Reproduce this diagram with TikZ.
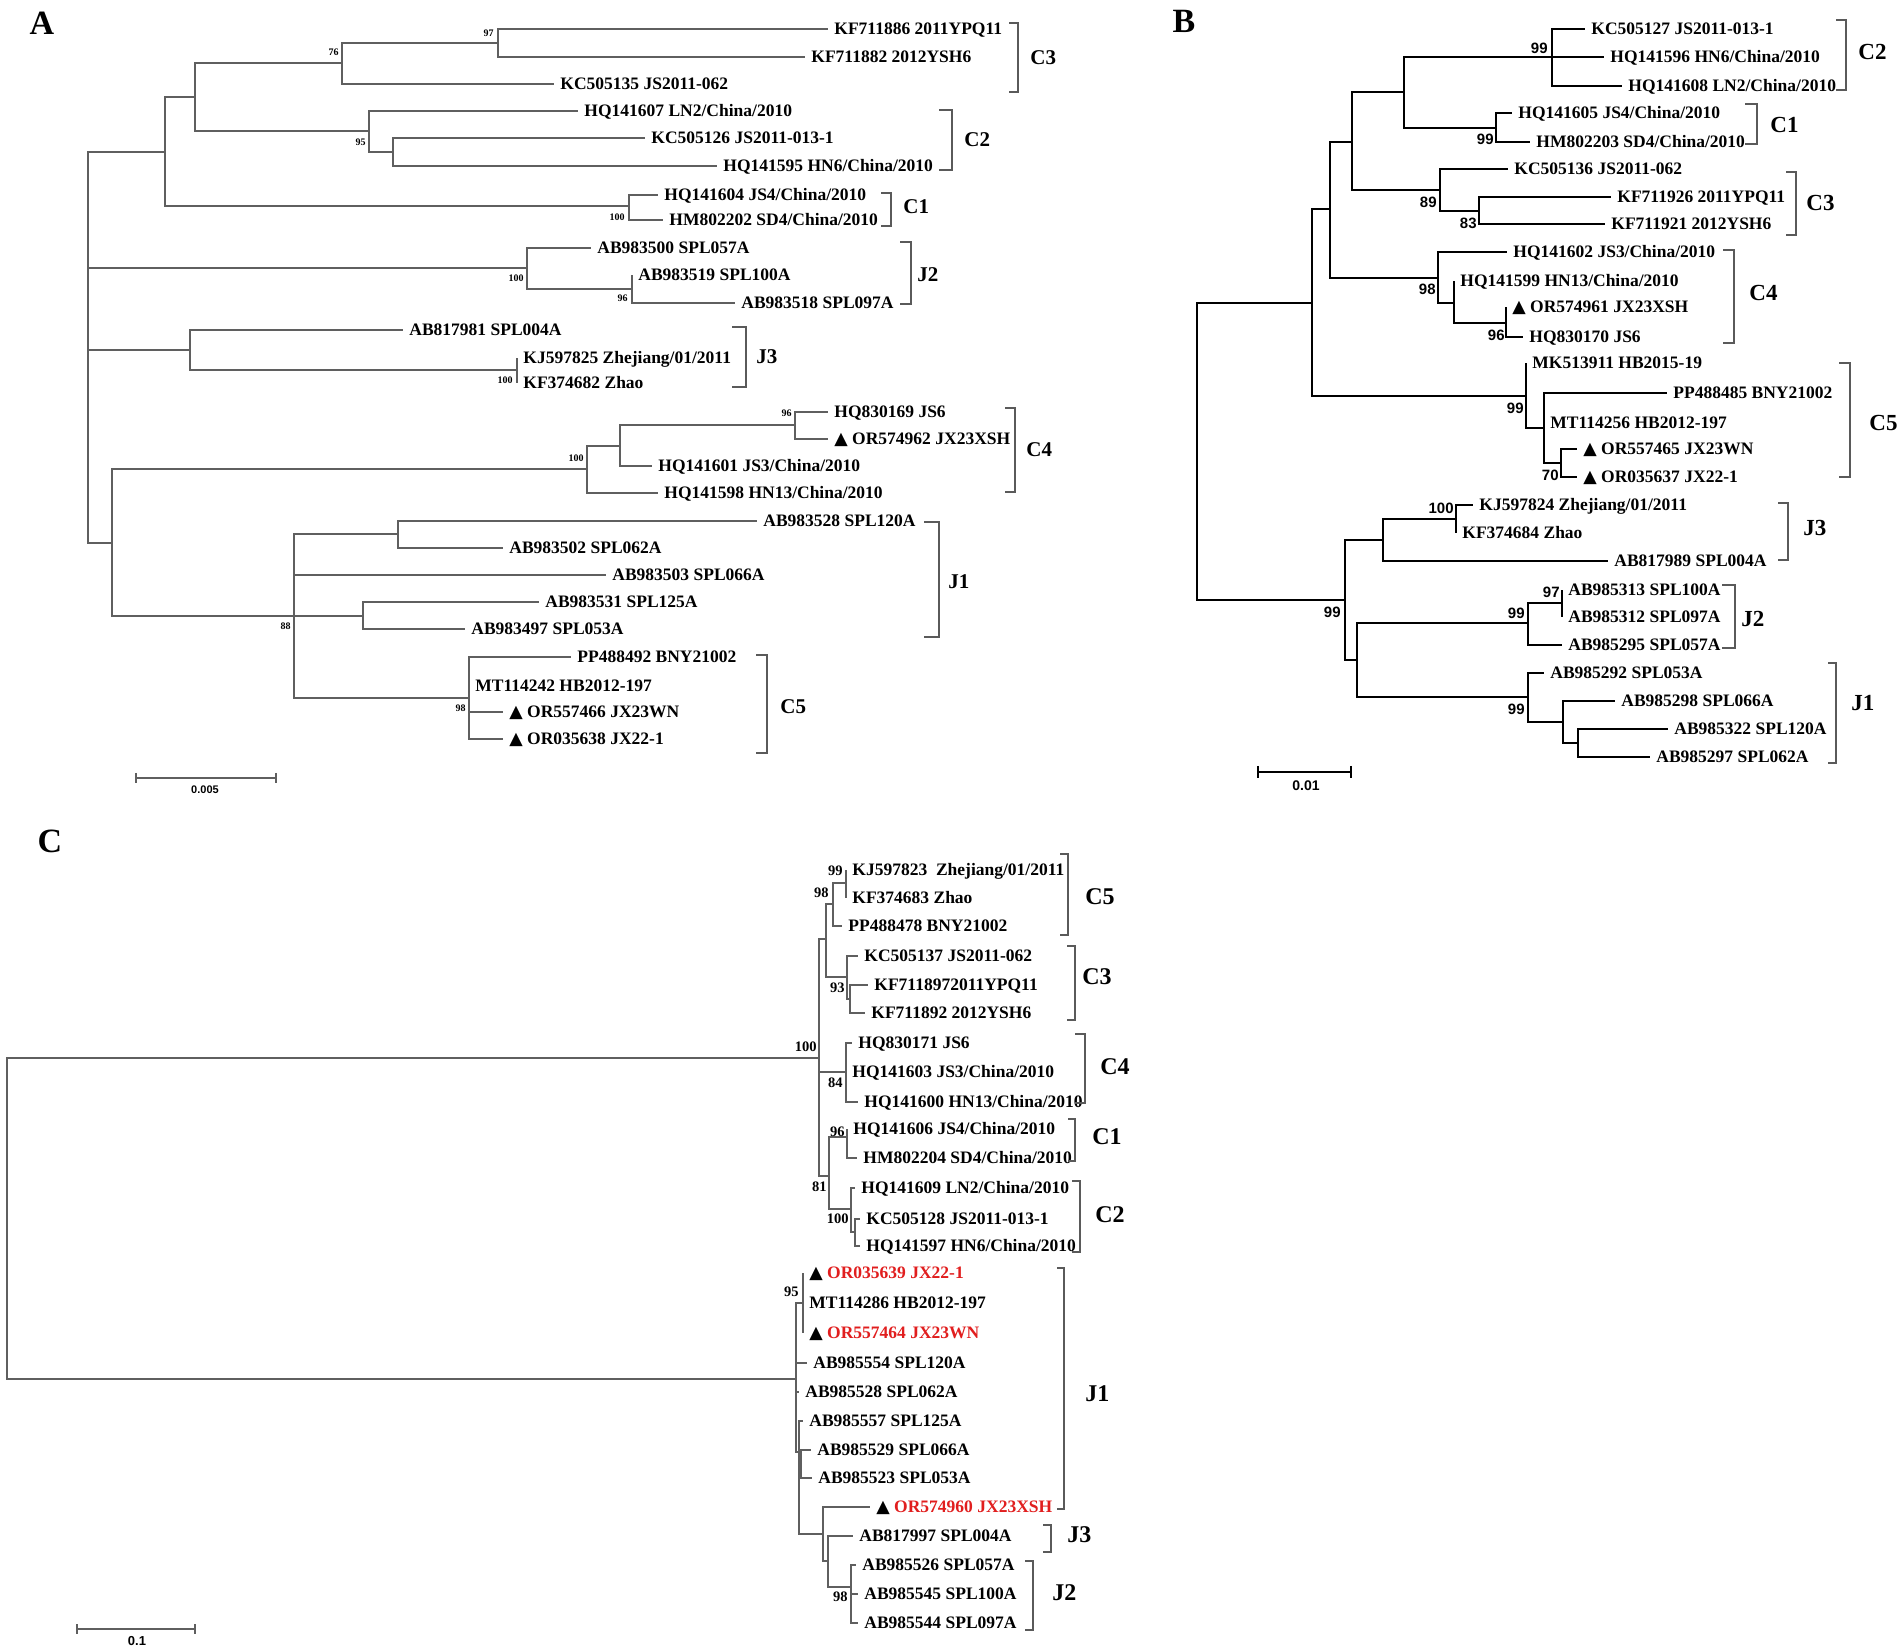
\documentclass[tikz,border=0pt]{standalone}
\usepackage{fontspec}
\setmainfont{Liberation Serif}
\setsansfont{Liberation Sans}
\newfontfamily\symf{DejaVu Sans}
\definecolor{lnA}{RGB}{95,95,95}
\definecolor{bkC}{RGB}{90,90,90}
\definecolor{redC}{RGB}{225,30,30}
\newcommand\tri{{\symf ▲}\ }
\newcommand\lf[5][]{\node[leaf,#1] (#2) at (#3,#4) {#5};}
\newcommand\bkt[4]{\draw[bktline] (#1,#3) -- (#2,#3) -- (#2,#4) -- (#1,#4);}
\begin{document}
\begin{tikzpicture}[x=0.5pt,y=-0.5pt,
  brA/.style={draw=lnA,line width=0.7pt},
  brB/.style={draw=black,line width=1pt},
  brC/.style={draw=lnA,line width=0.65pt},
  bktline/.style={draw=bkC,line width=0.6pt},
  leaf/.style={anchor=west,inner xsep=3pt,inner ysep=0pt,text height=5.8pt,text depth=0pt,
    font=\fontsize{8.75pt}{10pt}\selectfont\bfseries},
  bsA/.style={anchor=east,inner sep=0pt,font=\fontsize{5pt}{6pt}\selectfont\bfseries},
  bsB/.style={anchor=east,inner sep=0pt,font=\fontsize{7.5pt}{9pt}\selectfont\sffamily\bfseries},
  bsC/.style={anchor=east,inner sep=0pt,font=\fontsize{7.25pt}{9pt}\selectfont\bfseries},
  clA/.style={anchor=west,inner sep=0pt,font=\fontsize{10.5pt}{12pt}\selectfont\bfseries},
  clB/.style={anchor=west,inner sep=0pt,font=\fontsize{11.5pt}{13pt}\selectfont\bfseries},
  clC/.style={anchor=west,inner sep=0pt,font=\fontsize{12pt}{14pt}\selectfont\bfseries},
  panel/.style={inner sep=0pt,font=\fontsize{17pt}{20pt}\selectfont\bfseries},
  scl/.style={inner sep=0pt,font=\sffamily\bfseries}]
\useasboundingbox[fill=white] (0,0) rectangle (1902,1652);

% ================= Panel A =================
\node[panel] (pA) at (42,23) {A};
\coordinate (rA) at (88,350);
\coordinate (nA1) at (165,152);
\coordinate (nA2) at (195,97);
\coordinate (nC3A) at (342,63);
\coordinate (n97A) at (498,43);
\coordinate (nC2A) at (369,131);
\coordinate (nC2bA) at (393,152);
\coordinate (nC1A) at (629,206);
\coordinate (nJ2A) at (527,268);
\coordinate (nJ2bA) at (632,289);
\coordinate (nJ3A) at (190,350);
\coordinate (nJ3bA) at (517,370);
\coordinate (nXA) at (112,543);
\coordinate (nC4A) at (587,469);
\coordinate (nC4bA) at (620,446);
\coordinate (n96A) at (795,425);
\coordinate (nJ1C5A) at (294,616);
\coordinate (nJ1aA) at (398,534);
\coordinate (nJ1bA) at (363,616);
\coordinate (nC5A) at (469,698);

\lf{a1}{828}{29}{KF711886 2011YPQ11}
\lf{a2}{805}{57}{KF711882 2012YSH6}
\lf{a3}{554}{84}{KC505135 JS2011-062}
\lf{a4}{578}{111}{HQ141607 LN2/China/2010}
\lf{a5}{645}{138}{KC505126 JS2011-013-1}
\lf{a6}{717}{166}{HQ141595 HN6/China/2010}
\lf{a7}{658}{195}{HQ141604 JS4/China/2010}
\lf{a8}{663}{220}{HM802202 SD4/China/2010}
\lf{a9}{591}{248}{AB983500 SPL057A}
\lf{a10}{632}{275}{AB983519 SPL100A}
\lf{a11}{735}{303}{AB983518 SPL097A}
\lf{a12}{403}{330}{AB817981 SPL004A}
\lf{a13}{517}{358}{KJ597825 Zhejiang/01/2011}
\lf{a14}{517}{383}{KF374682 Zhao}
\lf{a15}{828}{412}{HQ830169 JS6}
\lf{a16}{828}{439}{\tri OR574962 JX23XSH}
\lf{a17}{652}{466}{HQ141601 JS3/China/2010}
\lf{a18}{658}{493}{HQ141598 HN13/China/2010}
\lf{a19}{757}{521}{AB983528 SPL120A}
\lf{a20}{503}{548}{AB983502 SPL062A}
\lf{a21}{606}{575}{AB983503 SPL066A}
\lf{a22}{539}{602}{AB983531 SPL125A}
\lf{a23}{465}{629}{AB983497 SPL053A}
\lf{a24}{571}{657}{PP488492 BNY21002}
\lf{a25}{469}{686}{MT114242 HB2012-197}
\lf{a26}{503}{712}{\tri OR557466 JX23WN}
\lf{a27}{503}{739}{\tri OR035638 JX22-1}

\foreach \p/\c in {rA/nA1,rA/nJ2A,rA/nJ3A,rA/nXA,nA1/nA2,nA1/nC1A,nA2/nC3A,nA2/nC2A,
  nC3A/n97A,nC3A/a3.west,n97A/a1.west,n97A/a2.west,nC2A/a4.west,nC2A/nC2bA,
  nC2bA/a5.west,nC2bA/a6.west,nC1A/a7.west,nC1A/a8.west,nJ2A/a9.west,nJ2A/nJ2bA,
  nJ2bA/a10.west,nJ2bA/a11.west,nJ3A/a12.west,nJ3A/nJ3bA,nJ3bA/a13.west,nJ3bA/a14.west,
  nXA/nC4A,nXA/nJ1C5A,nC4A/nC4bA,nC4A/a18.west,nC4bA/n96A,nC4bA/a17.west,
  n96A/a15.west,n96A/a16.west,nJ1C5A/nJ1aA,nJ1C5A/a21.west,nJ1C5A/nJ1bA,nJ1C5A/nC5A,
  nJ1aA/a19.west,nJ1aA/a20.west,nJ1bA/a22.west,nJ1bA/a23.west,
  nC5A/a24.west,nC5A/a25.west,nC5A/a26.west,nC5A/a27.west}
  \draw[brA] (\p) |- (\c);

\foreach \x/\y/\t [count=\i] in {494/33/97,339/52/76,366/142/95,625/217/100,524/278/100,
  628/298/96,513/380/100,792/413/96,584/458/100,291/626/88,466/708/98}
  \node[bsA] (bA\i) at (\x,\y) {\t};

\bkt{1009}{1018}{23}{92}   \node[clA] (kC3A) at (1030,58) {C3};
\bkt{939}{952}{110}{170}   \node[clA] (kC2A) at (964,140) {C2};
\bkt{881}{891}{193}{226}   \node[clA] (kC1A) at (903,207) {C1};
\bkt{900}{911}{242}{304}   \node[clA] (kJ2A) at (917,275) {J2};
\bkt{732}{746}{327}{387}   \node[clA] (kJ3A) at (756,357) {J3};
\bkt{1005}{1015}{408}{492} \node[clA] (kC4A) at (1026,450) {C4};
\bkt{924}{939}{522}{637}   \node[clA] (kJ1A) at (948,582) {J1};
\bkt{756}{767}{655}{753}   \node[clA] (kC5A) at (780,707) {C5};

\draw[lnA,line width=0.7pt] (136,778) -- (276,778) (136,773) -- (136,783) (276,773) -- (276,783);
\node[scl,font=\fontsize{5.5pt}{7pt}\selectfont\sffamily\bfseries] (sA) at (205,790) {0.005};

% ================= Panel B =================
\node[panel] (pB) at (1184,21) {B};
\coordinate (rB) at (1197,450);
\coordinate (nB1) at (1312,303);
\coordinate (nB2) at (1330,209);
\coordinate (nB3) at (1352,142);
\coordinate (nB4) at (1404,92);
\coordinate (nC2B) at (1552,57);
\coordinate (nC1B) at (1496,128);
\coordinate (nC3B) at (1440,190);
\coordinate (nC3bB) at (1479,211);
\coordinate (nC4B) at (1438,278);
\coordinate (nC4bB) at (1454,303);
\coordinate (nC4cB) at (1506,323);
\coordinate (nC5B) at (1526,396);
\coordinate (nC5bB) at (1544,428);
\coordinate (nC5cB) at (1561,463);
\coordinate (nJB) at (1345,600);
\coordinate (nJ3B) at (1383,540);
\coordinate (nJ3bB) at (1456,519);
\coordinate (nJ12B) at (1357,660);
\coordinate (nJ2B) at (1528,623);
\coordinate (nJ2bB) at (1562,603);
\coordinate (nJ1B) at (1528,697);
\coordinate (nJ1bB) at (1563,722);
\coordinate (nJ1cB) at (1578,743);

\lf{b1}{1585}{29}{KC505127 JS2011-013-1}
\lf{b2}{1604}{57}{HQ141596 HN6/China/2010}
\lf{b3}{1622}{86}{HQ141608 LN2/China/2010}
\lf{b4}{1512}{113}{HQ141605 JS4/China/2010}
\lf{b5}{1530}{142}{HM802203 SD4/China/2010}
\lf{b6}{1508}{169}{KC505136 JS2011-062}
\lf{b7}{1611}{197}{KF711926 2011YPQ11}
\lf{b8}{1605}{224}{KF711921 2012YSH6}
\lf{b9}{1507}{252}{HQ141602 JS3/China/2010}
\lf{b10}{1454}{281}{HQ141599 HN13/China/2010}
\lf{b11}{1506}{307}{\tri OR574961 JX23XSH}
\lf{b12}{1523}{337}{HQ830170 JS6}
\lf{b13}{1526}{363}{MK513911 HB2015-19}
\lf{b14}{1667}{393}{PP488485 BNY21002}
\lf{b15}{1544}{423}{MT114256 HB2012-197}
\lf{b16}{1577}{449}{\tri OR557465 JX23WN}
\lf{b17}{1577}{477}{\tri OR035637 JX22-1}
\lf{b18}{1473}{505}{KJ597824 Zhejiang/01/2011}
\lf{b19}{1456}{533}{KF374684 Zhao}
\lf{b20}{1608}{561}{AB817989 SPL004A}
\lf{b21}{1562}{590}{AB985313 SPL100A}
\lf{b22}{1562}{617}{AB985312 SPL097A}
\lf{b23}{1562}{645}{AB985295 SPL057A}
\lf{b24}{1544}{673}{AB985292 SPL053A}
\lf{b25}{1615}{701}{AB985298 SPL066A}
\lf{b26}{1668}{729}{AB985322 SPL120A}
\lf{b27}{1650}{757}{AB985297 SPL062A}

\foreach \p/\c in {rB/nB1,rB/nJB,nB1/nB2,nB1/nC5B,nB2/nB3,nB2/nC4B,nB3/nB4,nB3/nC3B,
  nB4/nC2B,nB4/nC1B,nC2B/b1.west,nC2B/b2.west,nC2B/b3.west,nC1B/b4.west,nC1B/b5.west,
  nC3B/b6.west,nC3B/nC3bB,nC3bB/b7.west,nC3bB/b8.west,nC4B/b9.west,nC4B/nC4bB,
  nC4bB/b10.west,nC4bB/nC4cB,nC4cB/b11.west,nC4cB/b12.west,nC5B/b13.west,nC5B/nC5bB,
  nC5bB/b14.west,nC5bB/b15.west,nC5bB/nC5cB,nC5cB/b16.west,nC5cB/b17.west,
  nJB/nJ3B,nJB/nJ12B,nJ3B/nJ3bB,nJ3B/b20.west,nJ3bB/b18.west,nJ3bB/b19.west,
  nJ12B/nJ2B,nJ12B/nJ1B,nJ2B/nJ2bB,nJ2B/b23.west,nJ2bB/b21.west,nJ2bB/b22.west,
  nJ1B/b24.west,nJ1B/nJ1bB,nJ1bB/b25.west,nJ1bB/nJ1cB,nJ1cB/b26.west,nJ1cB/b27.west}
  \draw[brB] (\p) |- (\c);

\foreach \x/\y/\t [count=\i] in {1548/48/99,1494/139/99,1437/202/89,1477/223/83,1436/289/98,
  1505/335/96,1524/408/99,1559/475/70,1454/508/100,1341/612/99,1525/613/99,1560/592/97,1525/709/99}
  \node[bsB] (bB\i) at (\x,\y) {\t};

\bkt{1836}{1846}{20}{90}   \node[clB] (kC2B) at (1858,52) {C2};
\bkt{1745}{1757}{104}{144} \node[clB] (kC1B) at (1770,125) {C1};
\bkt{1786}{1796}{172}{235} \node[clB] (kC3B) at (1806,203) {C3};
\bkt{1723}{1734}{250}{343} \node[clB] (kC4B) at (1749,293) {C4};
\bkt{1839}{1850}{363}{477} \node[clB] (kC5B) at (1869,423) {C5};
\bkt{1778}{1788}{503}{560} \node[clB] (kJ3B) at (1803,528) {J3};
\bkt{1722}{1735}{585}{648} \node[clB] (kJ2B) at (1741,619) {J2};
\bkt{1828}{1836}{663}{763} \node[clB] (kJ1B) at (1851,703) {J1};

\draw[black,line width=1pt] (1258,772) -- (1351,772) (1258,766) -- (1258,778) (1351,766) -- (1351,778);
\node[scl,font=\fontsize{7pt}{8pt}\selectfont\sffamily\bfseries] (sB) at (1306,786) {0.01};

% ================= Panel C =================
\node[panel] (pC) at (50,841) {C};
\coordinate (rC) at (7,1200);
\coordinate (nCC) at (819,1058);
\coordinate (nC53) at (826,939);
\coordinate (n98C) at (833,904);
\coordinate (n99C) at (846,883);
\coordinate (nC3C) at (847,977);
\coordinate (nC3bC) at (850,999);
\coordinate (nC4C) at (846,1072);
\coordinate (nC12C) at (829,1176);
\coordinate (nC1C) at (847,1137);
\coordinate (nC2C) at (851,1209);
\coordinate (nC2bC) at (855,1232);
\coordinate (nJC) at (796,1379);
\coordinate (n95C) at (803,1303);
\coordinate (nDC) at (799,1452);
\coordinate (nFC) at (801,1464);
\coordinate (nGC) at (823,1534);
\coordinate (nHC) at (828,1561);
\coordinate (nJ2C) at (851,1587);

\lf{c1}{846}{870}{KJ597823\ \ Zhejiang/01/2011}
\lf{c2}{846}{898}{KF374683 Zhao}
\lf{c3}{842}{926}{PP488478 BNY21002}
\lf{c4}{858}{956}{KC505137 JS2011-062}
\lf{c5}{868}{985}{KF7118972011YPQ11}
\lf{c6}{865}{1013}{KF711892 2012YSH6}
\lf{c7}{852}{1043}{HQ830171 JS6}
\lf{c8}{846}{1072}{HQ141603 JS3/China/2010}
\lf{c9}{858}{1102}{HQ141600 HN13/China/2010}
\lf{c10}{847}{1129}{HQ141606 JS4/China/2010}
\lf{c11}{857}{1158}{HM802204 SD4/China/2010}
\lf{c12}{855}{1188}{HQ141609 LN2/China/2010}
\lf{c13}{860}{1219}{KC505128 JS2011-013-1}
\lf{c14}{860}{1246}{HQ141597 HN6/China/2010}
\lf{c15}{803}{1273}{\tri\textcolor{redC}{OR035639 JX22-1}}
\lf{c16}{803}{1303}{MT114286 HB2012-197}
\lf{c17}{803}{1333}{\tri\textcolor{redC}{OR557464 JX23WN}}
\lf{c18}{807}{1363}{AB985554 SPL120A}
\lf{c19}{799}{1392}{AB985528 SPL062A}
\lf{c20}{803}{1421}{AB985557 SPL125A}
\lf{c21}{811}{1450}{AB985529 SPL066A}
\lf{c22}{812}{1478}{AB985523 SPL053A}
\lf{c23}{870}{1507}{\tri\textcolor{redC}{OR574960 JX23XSH}}
\lf{c24}{853}{1536}{AB817997 SPL004A}
\lf{c25}{856}{1565}{AB985526 SPL057A}
\lf{c26}{858}{1594}{AB985545 SPL100A}
\lf{c27}{858}{1623}{AB985544 SPL097A}

\foreach \p/\c in {rC/nCC,rC/nJC,nCC/nC53,nCC/nC4C,nCC/nC12C,nC53/n98C,nC53/nC3C,
  n98C/n99C,n98C/c3.west,n99C/c1.west,n99C/c2.west,nC3C/c4.west,nC3C/nC3bC,
  nC3bC/c5.west,nC3bC/c6.west,nC4C/c7.west,nC4C/c8.west,nC4C/c9.west,
  nC12C/nC1C,nC12C/nC2C,nC1C/c10.west,nC1C/c11.west,nC2C/c12.west,nC2C/nC2bC,
  nC2bC/c13.west,nC2bC/c14.west,nJC/n95C,nJC/c18.west,nJC/c19.west,nJC/nDC,
  n95C/c15.west,n95C/c16.west,n95C/c17.west,nDC/c20.west,nDC/nFC,nDC/nGC,
  nFC/c21.west,nFC/c22.west,nGC/c23.west,nGC/nHC,nHC/c24.west,nHC/nJ2C,
  nJ2C/c25.west,nJ2C/c26.west,nJ2C/c27.west}
  \draw[brC] (\p) |- (\c);

\foreach \x/\y/\t [count=\i] in {843/871/99,829/893/98,845/988/93,817/1047/100,843/1083/84,
  845/1132/96,827/1187/81,849/1219/100,799/1292/95,848/1597/98}
  \node[bsC] (bC\i) at (\x,\y) {\t};

\bkt{1060}{1068}{854}{935}   \node[clC] (kC5C) at (1085,897) {C5};
\bkt{1067}{1075}{946}{1020}  \node[clC] (kC3C) at (1082,977) {C3};
\bkt{1075}{1085}{1034}{1103} \node[clC] (kC4C) at (1100,1067) {C4};
\bkt{1068}{1075}{1119}{1161} \node[clC] (kC1C) at (1092,1137) {C1};
\bkt{1072}{1080}{1181}{1252} \node[clC] (kC2C) at (1095,1215) {C2};
\bkt{1057}{1064}{1268}{1509} \node[clC] (kJ1C) at (1085,1394) {J1};
\bkt{1043}{1051}{1525}{1552} \node[clC] (kJ3C) at (1067,1535) {J3};
\bkt{1025}{1033}{1561}{1630} \node[clC] (kJ2C) at (1052,1593) {J2};

\draw[lnA,line width=0.7pt] (77,1629) -- (195,1629) (77,1624) -- (77,1634) (195,1624) -- (195,1634);
\node[scl,font=\fontsize{6.5pt}{8pt}\selectfont\sffamily\bfseries] (sC) at (137,1641) {0.1};
\end{tikzpicture}
\end{document}
